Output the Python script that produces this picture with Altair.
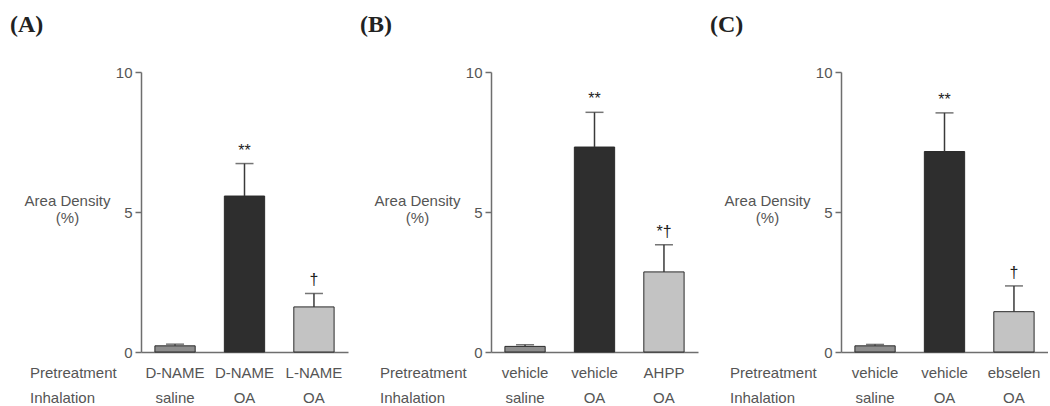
import altair as alt
import pandas as pd

# ---------------- data ----------------
panel_labels = ["(A)", "(B)", "(C)"]
group_keys = ["g1", "g2", "g3"]
pretreatment = [
    ["D-NAME", "D-NAME", "L-NAME"],
    ["vehicle", "vehicle", "AHPP"],
    ["vehicle", "vehicle", "ebselen"],
]
inhalation = [
    ["saline", "OA", "OA"],
    ["saline", "OA", "OA"],
    ["saline", "OA", "OA"],
]
mean_a = [0.22, 5.57, 1.61]
mean_b = [0.20, 7.32, 2.86]
mean_c = [0.22, 7.16, 1.44]
sem_a = [0.06, 1.16, 0.48]
sem_b = [0.06, 1.24, 0.97]
sem_c = [0.05, 1.38, 0.92]
signif_a = ["", "**", "†"]
signif_b = ["", "**", "*†"]
signif_c = ["", "**", "†"]
row_labels = ["Pretreatment", "Inhalation"]
y_ticks = [0, 5, 10]
y_title = ["Area Density", "(%)"]

# ---------------- style ----------------
W, H = 207, 280
SANS = "Liberation Sans"
SERIF = "Liberation Serif"
GRAY = "#555555"
AXIS_GRAY = "#6e6e6e"
fills = ["#8d8d8d", "#2e2e2e", "#c3c3c3"]


def make_y(field):
    return alt.Y(
        field,
        scale=alt.Scale(domain=[0, 10], nice=False, zero=True),
        axis=alt.Axis(
            values=y_ticks, grid=False, title=y_title, titleAngle=0,
            titleX=-74, titleY=133, titleAlign="center",
            titleBaseline="alphabetic", titleFont=SANS, titleFontSize=15,
            titleFontWeight="normal", titleColor=GRAY, titleLineHeight=17,
            labelFont=SANS, labelFontSize=15, labelColor=GRAY,
            labelPadding=3, tickSize=6, tickColor=AXIS_GRAY, tickWidth=1.5,
            domainColor=AXIS_GRAY, domainWidth=1.5,
        ),
    )


X = alt.X(
    "key:N", sort=group_keys,
    scale=alt.Scale(paddingInner=0.42, paddingOuter=0.2),
    axis=alt.Axis(title=None, labels=False, ticks=False, domain=True,
                  domainColor=AXIS_GRAY, domainWidth=1.5),
)


def panel(i, means, sems, sig, anchor=False):
    df = pd.DataFrame({
        "key": group_keys,
        "pre": pretreatment[i],
        "inh": inhalation[i],
        "mean": means,
        "upper": [m + s for m, s in zip(means, sems)],
        "sig": sig,
    })
    base = alt.Chart(df)
    bars = base.mark_bar(stroke="#2a2a2a", strokeWidth=1).encode(
        x=X,
        y=make_y("mean:Q"),
        fill=alt.Fill("key:N", scale=alt.Scale(domain=group_keys, range=fills), legend=None),
    )
    err = base.mark_rule(color="#3a3a3a", strokeWidth=1.5).encode(
        x=X, y=make_y("mean:Q"), y2="upper:Q"
    )
    cap = base.mark_tick(color="#3a3a3a", size=18, thickness=1.5, orient="horizontal").encode(
        x=X, y=make_y("upper:Q")
    )
    sigt = base.mark_text(font=SANS, fontSize=16, color="#222222", dy=-8,
                          baseline="alphabetic").encode(
        x=X, y=make_y("upper:Q"), text="sig:N"
    )
    pre = base.mark_text(font=SANS, fontSize=15, color=GRAY, baseline="alphabetic").encode(
        x=X, y=alt.value(306), text="pre:N"
    )
    inh = base.mark_text(font=SANS, fontSize=15, color=GRAY, baseline="alphabetic").encode(
        x=X, y=alt.value(331), text="inh:N"
    )
    r1 = alt.Chart(pd.DataFrame({"t": [row_labels[0]]})).mark_text(
        font=SANS, fontSize=15, color=GRAY, align="left", baseline="alphabetic"
    ).encode(x=alt.value(-111), y=alt.value(306), text="t:N")
    r2 = alt.Chart(pd.DataFrame({"t": [row_labels[1]]})).mark_text(
        font=SANS, fontSize=15, color=GRAY, align="left", baseline="alphabetic"
    ).encode(x=alt.value(-111), y=alt.value(331), text="t:N")
    ttl = alt.Chart(pd.DataFrame({"t": [panel_labels[i]]})).mark_text(
        font=SERIF, fontSize=24, fontWeight="bold", color="#222222",
        align="left", baseline="alphabetic"
    ).encode(x=alt.value(-131), y=alt.value(-40), text="t:N")
    layers = [bars, err, cap, sigt, pre, inh, r1, r2, ttl]
    if anchor:
        anc = alt.Chart(pd.DataFrame({"a": [0]})).mark_rule(strokeOpacity=0).encode(
            x=alt.value(-141), x2=alt.value(-140), y=alt.value(-72), y2=alt.value(-72)
        )
        layers.append(anc)
    return alt.layer(*layers).properties(width=W, height=H)


pa = panel(0, mean_a, sem_a, signif_a, anchor=True)
pb = panel(1, mean_b, sem_b, signif_b)
pc = panel(2, mean_c, sem_c, signif_c)

chart = alt.hconcat(pa, pb, pc, spacing=143, bounds="flush").properties(
    padding=0
).configure_view(strokeWidth=0)

chart.save("out.html", embed_options={"renderer": "svg", "actions": False})
